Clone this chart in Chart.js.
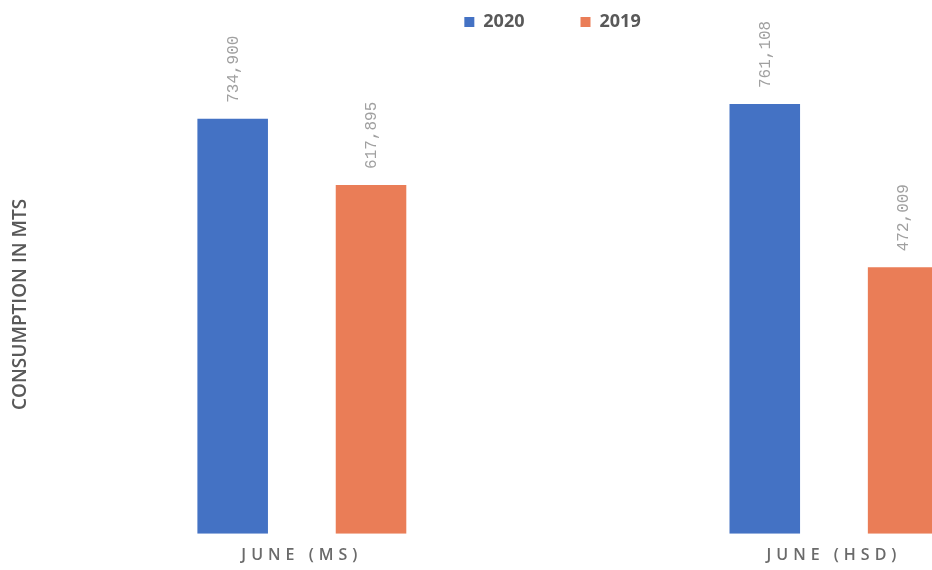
<!DOCTYPE html>
<html>
<head>
<meta charset="utf-8">
<script src="https://cdn.jsdelivr.net/npm/chart.js@4"></script>
<style>
  html, body { margin: 0; padding: 0; background: #fff; overflow: hidden; }
  #wrap { width: 1100px; height: 570px; }
</style>
</head>
<body>
<div id="wrap"><canvas id="fuel"></canvas></div>
<script>
const categories = ['JUNE (MS)', 'JUNE (HSD)'];
const series2020 = [734900, 761108];
const series2019 = [617895, 472009];

const fuel = document.getElementById('fuel');

Chart.defaults.font.family = '"Open Sans", sans-serif';
Chart.defaults.color = '#595959';

// rotated value labels above bars, then letter spacing for the x labels
const barLabels = {
  id: 'barLabels',
  afterDatasetsDraw(chart) {
    const ctx = chart.ctx;
    chart.data.datasets.forEach((ds, i) => {
      chart.getDatasetMeta(i).data.forEach((bar, j) => {
        ctx.save();
        ctx.translate(bar.x + 1, bar.y - 16);
        ctx.rotate(-Math.PI / 2);
        ctx.font = '16px "Liberation Mono", monospace';
        ctx.fillStyle = '#a0a0a0';
        ctx.textAlign = 'left';
        ctx.textBaseline = 'middle';
        ctx.fillText(ds.data[j].toLocaleString('en-US'), 0, 0);
        ctx.restore();
      });
    });
    ctx.letterSpacing = '5px';
  },
  afterDraw(chart) {
    chart.ctx.letterSpacing = '0px';
  }
};

new Chart(fuel, {
  type: 'bar',
  data: {
    labels: categories,
    datasets: [{
      label: '2020',
      data: series2020,
      backgroundColor: '#4472C4'
    }, {
      label: '2019',
      data: series2019,
      backgroundColor: '#EA7D57'
    }]
  },
  options: {
    responsive: true,
    maintainAspectRatio: false,
    animation: false,
    categoryPercentage: 0.52,
    barPercentage: 0.51,
    layout: {
      padding: { top: -43, left: 5, right: 0, bottom: -7 }
    },
    plugins: {
      tooltip: { enabled: false },
      legend: {
        position: 'top',
        labels: {
          boxWidth: 10,
          boxHeight: 10,
          padding: 56,
          color: '#595959',
          font: { size: 18, weight: 'bold' }
        }
      },
      // empty spacer between legend and plot area
      subtitle: {
        display: true,
        text: '',
        weight: 500,
        font: { size: 10 },
        padding: { top: 0, bottom: 22 }
      }
    },
    scales: {
      x: {
        grid: { display: false, drawTicks: false },
        border: { display: false },
        ticks: {
          z: 1,
          padding: 12,
          color: '#6a6a6a',
          font: { size: 16, weight: '600' }
        }
      },
      y: {
        beginAtZero: true,
        max: 812500,
        grid: { display: false, drawTicks: false },
        border: { display: false },
        ticks: { display: false },
        title: {
          display: true,
          text: 'CONSUMPTION IN MTS',
          color: '#595959',
          font: { size: 19, weight: '600' }
        }
      }
    }
  },
  plugins: [barLabels]
});
</script>
</body>
</html>
